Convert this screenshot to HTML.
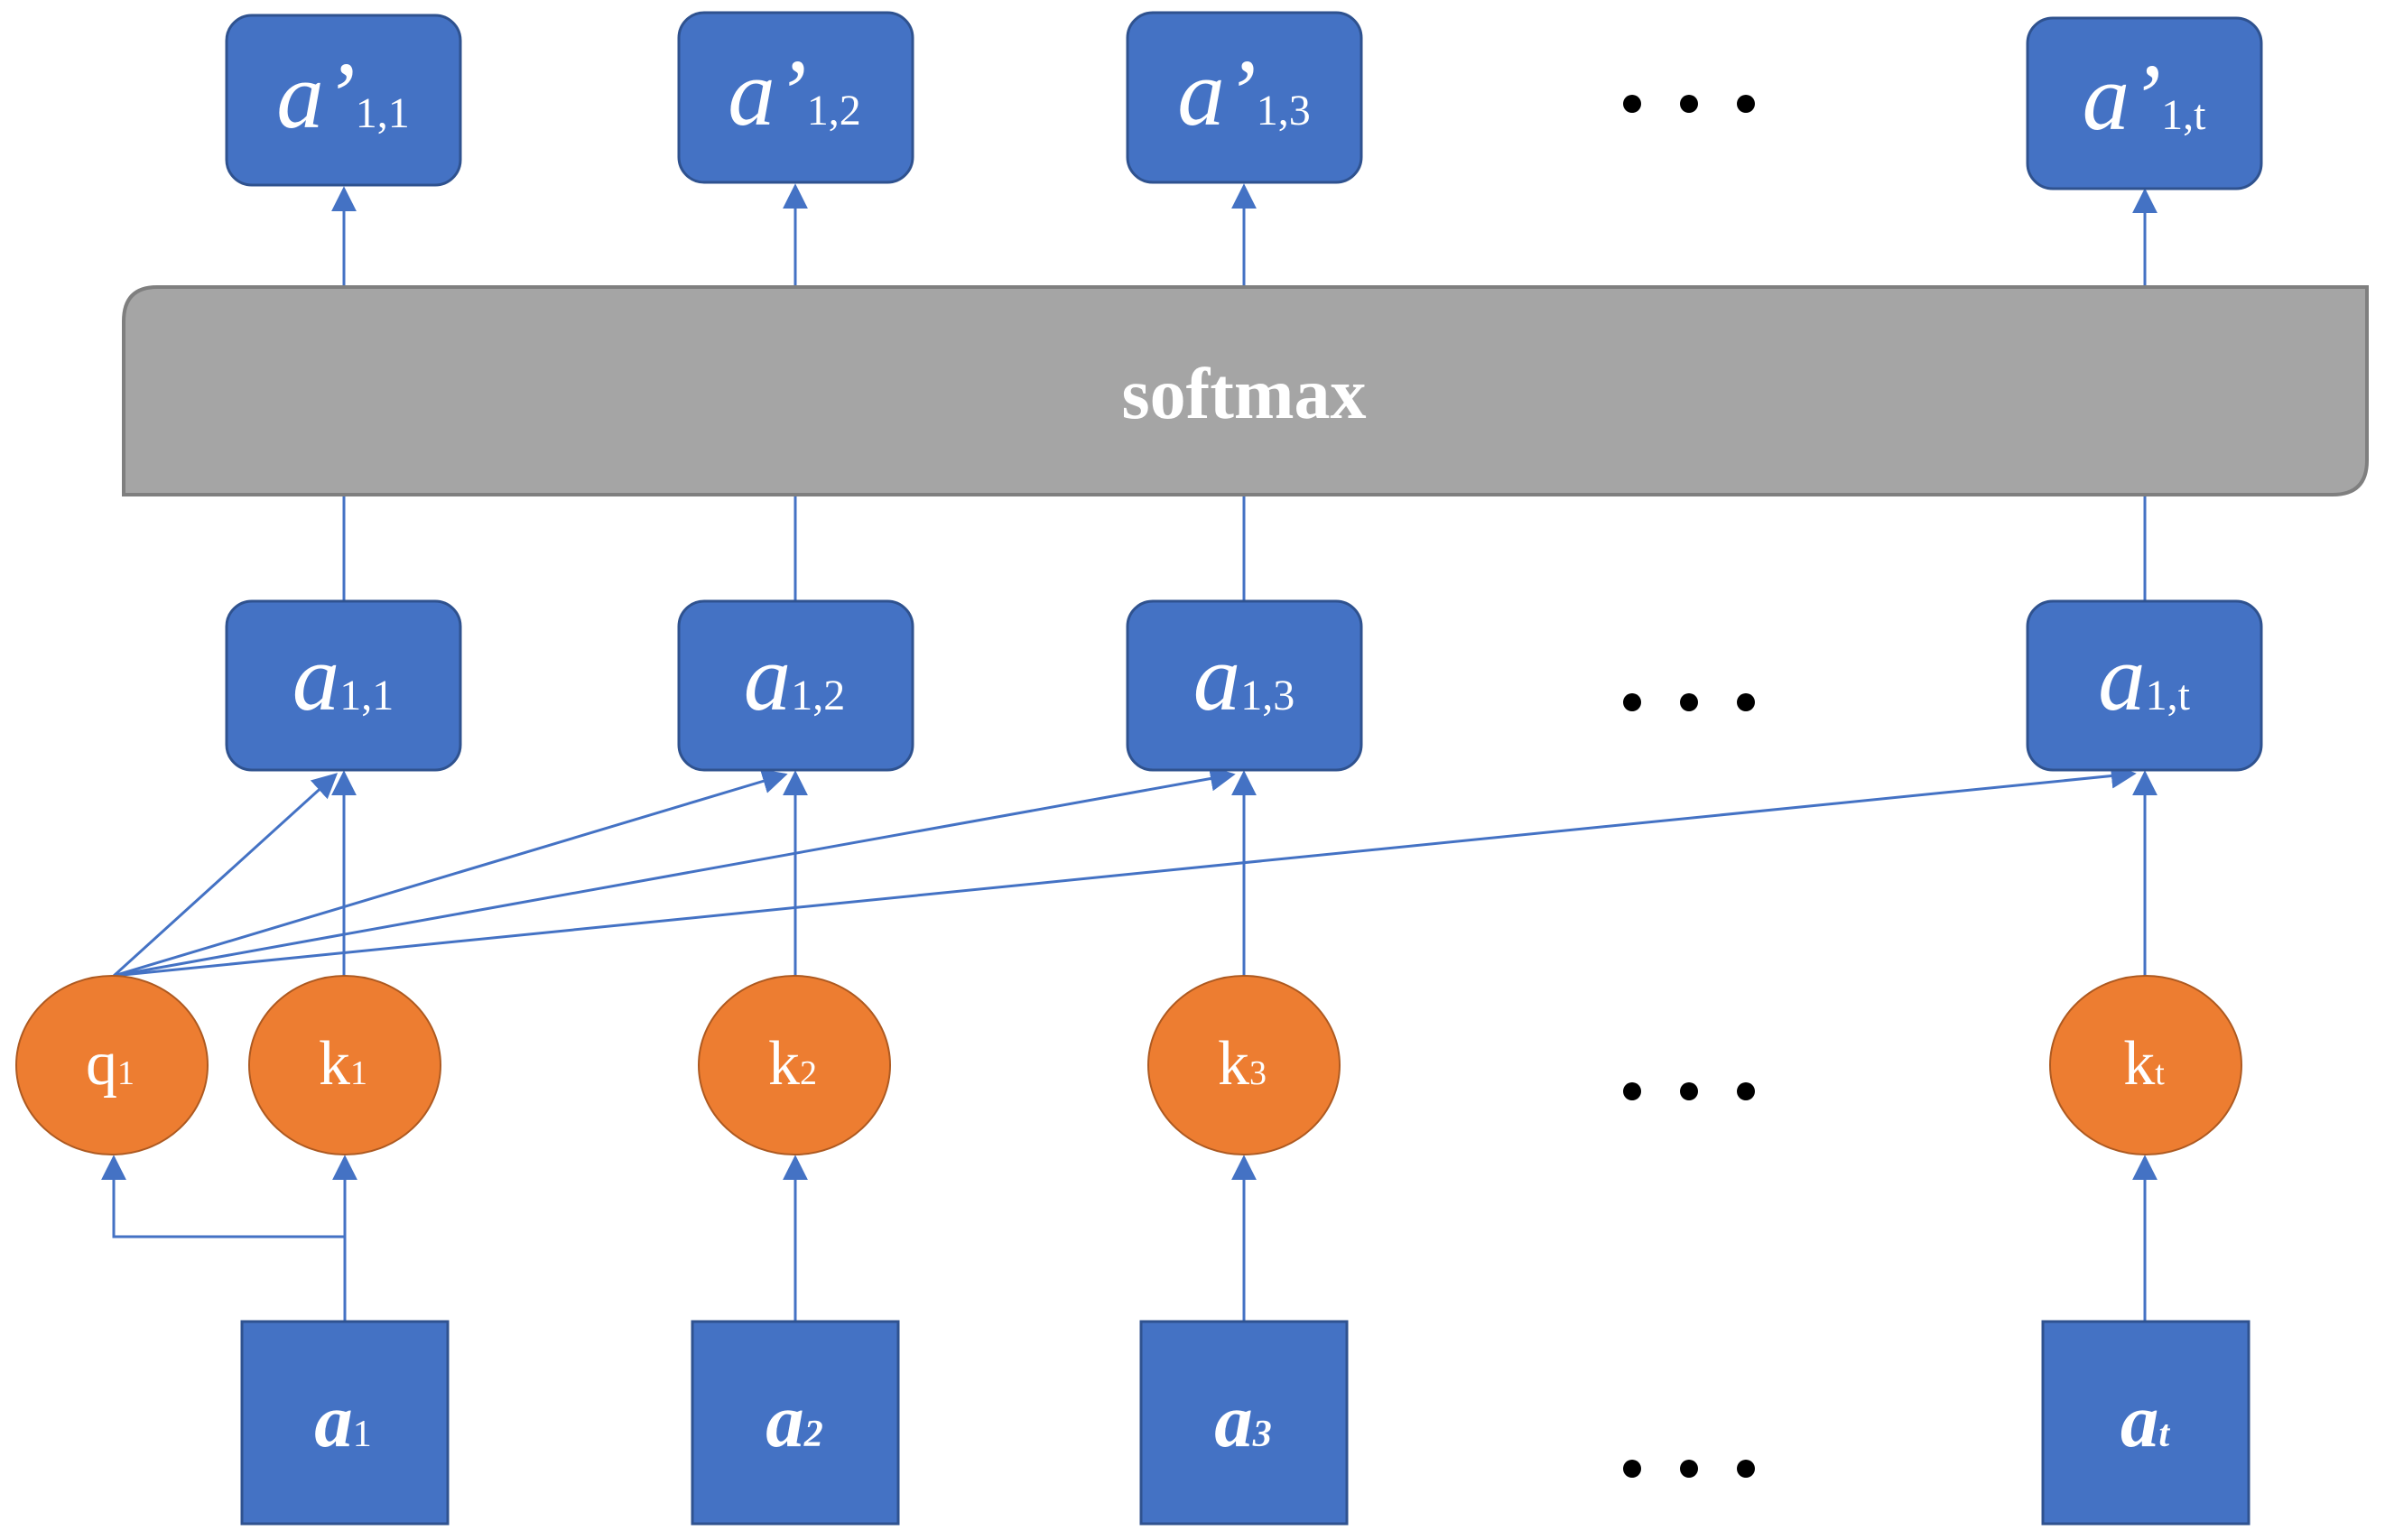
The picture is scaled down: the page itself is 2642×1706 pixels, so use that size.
<!DOCTYPE html>
<html><head><meta charset="utf-8"><style>
html,body{margin:0;padding:0;background:#fff;}
svg{display:block;}
text{font-family:"Liberation Serif",serif;fill:#fff;}
</style></head><body>
<svg width="2642" height="1706" viewBox="0 0 2642 1706" xmlns="http://www.w3.org/2000/svg">
<defs>
<marker id="ah" viewBox="0 0 10 10" refX="10" refY="5" markerWidth="9" markerHeight="9" markerUnits="userSpaceOnUse" orient="auto">
</marker>
<marker id="a" viewBox="0 0 10 10" refX="9" refY="5" markerWidth="28" markerHeight="28" markerUnits="userSpaceOnUse" orient="auto">
<path d="M0,0 L10,5 L0,10 z" fill="#4472C4"/>
</marker>
</defs>
<g stroke="#4472C4" stroke-width="3" fill="none">
<!-- top arrows -->
<line x1="381" y1="317" x2="381" y2="209" marker-end="url(#a)"/>
<line x1="881" y1="317" x2="881" y2="206" marker-end="url(#a)"/>
<line x1="1378" y1="317" x2="1378" y2="206" marker-end="url(#a)"/>
<line x1="2376" y1="317" x2="2376" y2="211" marker-end="url(#a)"/>
<!-- middle lines -->
<line x1="381" y1="548" x2="381" y2="666"/>
<line x1="881" y1="548" x2="881" y2="666"/>
<line x1="1378" y1="548" x2="1378" y2="666"/>
<line x1="2376" y1="548" x2="2376" y2="666"/>
<!-- k to a arrows -->
<line x1="381" y1="1081" x2="381" y2="856" marker-end="url(#a)"/>
<line x1="881" y1="1081" x2="881" y2="856" marker-end="url(#a)"/>
<line x1="1378" y1="1081" x2="1378" y2="856" marker-end="url(#a)"/>
<line x1="2376" y1="1081" x2="2376" y2="856" marker-end="url(#a)"/>
<!-- fan -->
<line x1="126" y1="1081" x2="372" y2="858" marker-end="url(#a)"/>
<line x1="126" y1="1081" x2="870" y2="858" marker-end="url(#a)"/>
<line x1="126" y1="1081" x2="1366" y2="858" marker-end="url(#a)"/>
<line x1="126" y1="1081" x2="2364" y2="857" marker-end="url(#a)"/>
<!-- square to circle -->
<line x1="382" y1="1464" x2="382" y2="1282" marker-end="url(#a)"/>
<line x1="881" y1="1464" x2="881" y2="1282" marker-end="url(#a)"/>
<line x1="1378" y1="1464" x2="1378" y2="1282" marker-end="url(#a)"/>
<line x1="2376" y1="1464" x2="2376" y2="1282" marker-end="url(#a)"/>
<polyline points="382,1464 382,1370 126,1370 126,1282" marker-end="url(#a)"/>
</g>
<!-- softmax -->
<path d="M174,318 H2622 V510 Q2622,548 2584,548 H137 V356 Q137,318 174,318 Z" fill="#A5A5A5" stroke="#7F7F7F" stroke-width="4"/>
<text x="1378" y="463" font-size="80" font-weight="bold" text-anchor="middle">softmax</text>
<!-- top boxes -->
<g fill="#4472C4" stroke="#2F528F" stroke-width="3">
<rect x="251" y="17" width="259" height="188" rx="28"/>
<rect x="752" y="14" width="259" height="188" rx="28"/>
<rect x="1249" y="14" width="259" height="188" rx="28"/>
<rect x="2246" y="20" width="259" height="189" rx="28"/>
<rect x="251" y="666" width="259" height="187" rx="28"/>
<rect x="752" y="666" width="259" height="187" rx="28"/>
<rect x="1249" y="666" width="259" height="187" rx="28"/>
<rect x="2246" y="666" width="259" height="187" rx="28"/>
<rect x="268" y="1464" width="228" height="224"/>
<rect x="767" y="1464" width="228" height="224"/>
<rect x="1264" y="1464" width="228" height="224"/>
<rect x="2263" y="1464" width="228" height="224"/>
</g>
<g fill="#ED7D31" stroke="#AE5A21" stroke-width="2">
<ellipse cx="124" cy="1180" rx="106" ry="99"/>
<ellipse cx="382" cy="1180" rx="106" ry="99"/>
<ellipse cx="880" cy="1180" rx="106" ry="99"/>
<ellipse cx="1378" cy="1180" rx="106" ry="99"/>
<ellipse cx="2377" cy="1180" rx="106" ry="99"/>
</g>
<!-- labels top -->
<text x="380" y="141" text-anchor="middle"><tspan font-style="italic" font-size="105">a’</tspan><tspan font-size="48">1,1</tspan></text>
<text x="880" y="138" text-anchor="middle"><tspan font-style="italic" font-size="105">a’</tspan><tspan font-size="48">1,2</tspan></text>
<text x="1378" y="138" text-anchor="middle"><tspan font-style="italic" font-size="105">a’</tspan><tspan font-size="48">1,3</tspan></text>
<text x="2375" y="143" text-anchor="middle"><tspan font-style="italic" font-size="105">a’</tspan><tspan font-size="48">1,t</tspan></text>
<text x="380" y="786" text-anchor="middle"><tspan font-style="italic" font-size="105">a</tspan><tspan font-size="48">1,1</tspan></text>
<text x="880" y="786" text-anchor="middle"><tspan font-style="italic" font-size="105">a</tspan><tspan font-size="48">1,2</tspan></text>
<text x="1378" y="786" text-anchor="middle"><tspan font-style="italic" font-size="105">a</tspan><tspan font-size="48">1,3</tspan></text>
<text x="2375" y="786" text-anchor="middle"><tspan font-style="italic" font-size="105">a</tspan><tspan font-size="48">1,t</tspan></text>
<!-- circles -->
<text x="122" y="1201" text-anchor="middle"><tspan font-size="70">q</tspan><tspan font-size="38">1</tspan></text>
<text x="380" y="1201" text-anchor="middle"><tspan font-size="70">k</tspan><tspan font-size="38">1</tspan></text>
<text x="878" y="1201" text-anchor="middle"><tspan font-size="70">k</tspan><tspan font-size="38">2</tspan></text>
<text x="1376" y="1201" text-anchor="middle"><tspan font-size="70">k</tspan><tspan font-size="38">3</tspan></text>
<text x="2375" y="1201" text-anchor="middle"><tspan font-size="70">k</tspan><tspan font-size="38">t</tspan></text>
<!-- squares -->
<text x="380" y="1602" text-anchor="middle"><tspan font-style="italic" font-weight="bold" font-size="85">a</tspan><tspan font-size="42">1</tspan></text>
<text x="880" y="1602" text-anchor="middle"><tspan font-style="italic" font-weight="bold" font-size="85">a</tspan><tspan font-style="italic" font-weight="bold" font-size="42">2</tspan></text>
<text x="1377" y="1602" text-anchor="middle"><tspan font-style="italic" font-weight="bold" font-size="85">a</tspan><tspan font-style="italic" font-weight="bold" font-size="42">3</tspan></text>
<text x="2376" y="1602" text-anchor="middle"><tspan font-style="italic" font-weight="bold" font-size="85">a</tspan><tspan font-style="italic" font-weight="bold" font-size="42">t</tspan></text>
<!-- dots -->
<g fill="#000">
<circle cx="1808" cy="115" r="10"/><circle cx="1871" cy="115" r="10"/><circle cx="1934" cy="115" r="10"/>
<circle cx="1808" cy="778" r="10"/><circle cx="1871" cy="778" r="10"/><circle cx="1934" cy="778" r="10"/>
<circle cx="1808" cy="1209" r="10"/><circle cx="1871" cy="1209" r="10"/><circle cx="1934" cy="1209" r="10"/>
<circle cx="1808" cy="1627" r="10"/><circle cx="1871" cy="1627" r="10"/><circle cx="1934" cy="1627" r="10"/>
</g>
</svg>
</body></html>
